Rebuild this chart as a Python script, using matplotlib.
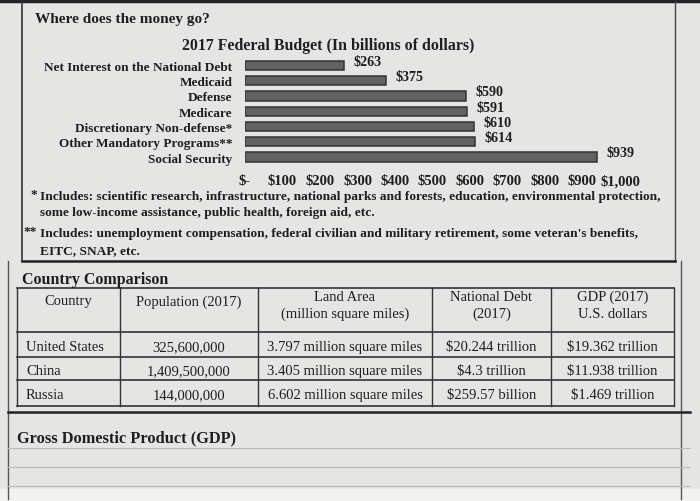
import numpy as np
from matplotlib import pyplot as plt

# budget data (billions of dollars)
categories = ['Net Interest on the National Debt', 'Medicaid', 'Defense', 'Medicare',
              'Discretionary Non-defense*', 'Other Mandatory Programs**', 'Social Security']
values = [263, 375, 590, 591, 610, 614, 939]
xticks = [0, 100, 200, 300, 400, 500, 600, 700, 800, 900, 1000]
xtick_labels = ['$-', '$100', '$200', '$300', '$400', '$500', '$600', '$700', '$800', '$900', '$1,000']

# country comparison table
table_header = ['Country', 'Population (2017)', 'Land Area\n(million square miles)',
                'National Debt\n(2017)', 'GDP (2017)\nU.S. dollars']
countries = ['United States', 'China', 'Russia']
population = ['325,600,000', '1,409,500,000', '144,000,000']
land_area = ['3.797 million square miles', '3.405 million square miles', '6.602 million square miles']
national_debt = ['$20.244 trillion', '$4.3 trillion', '$259.57 billion']
gdp = ['$19.362 trillion', '$11.938 trillion', '$1.469 trillion']

footnotes = [('*', ['Includes: scientific research, infrastructure, national parks and forests, education, environmental protection,',
                    'some low-income assistance, public health, foreign aid, etc.']),
             ('**', ['Includes: unemployment compensation, federal civilian and military retirement, some veteran\'s benefits,',
                     'EITC, SNAP, etc.'])]

W, H = 700, 502
INK = '#1e1e1e'
plt.rcParams['font.family'] = 'Liberation Serif'

fig = plt.figure(figsize=(W / 100, H / 100), dpi=100)
fig.patch.set_facecolor('#e5e5e3')

# background axes in pixel coordinates for the worksheet page
bg = fig.add_axes([0, 0, 1, 1])
bg.set_xlim(0, W)
bg.set_ylim(H, 0)
bg.axis('off')
bg.axhspan(490, H, color='#f2f2f0', zorder=0)

# box borders
bg.plot([0, W], [1.5, 1.5], color='#222', lw=2.5)
bg.plot([22, 22], [2, 262], color='#333', lw=1.2)
bg.plot([675, 675], [2, 262], color='#444', lw=1.0)
bg.plot([22, 675], [262, 262], color='#222', lw=1.8)
bg.plot([8, 8], [262, 500], color='#555', lw=1.0)
bg.plot([681, 681], [262, 500], color='#555', lw=1.0)
bg.plot([8, 690], [413, 413], color='#222', lw=1.8)
for yy in [449, 468, 487]:
    bg.plot([8, 690], [yy, yy], color='#b8b8b6', lw=0.8)

bg.text(35, 20, 'Where does the money go?', fontsize=11, fontweight='bold', color=INK, va='center')
bg.text(328, 46, '2017 Federal Budget (In billions of dollars)', fontsize=11.4,
        fontweight='bold', color=INK, ha='center', va='center')

# footnotes
line_y = [[197, 213], [234, 251]]
for (mark, lines), ys in zip(footnotes, line_y):
    bg.text(37, ys[0] - 2, mark, fontsize=9.6, fontweight='bold', color=INK, ha='right', va='center')
    for txt, yy in zip(lines, ys):
        bg.text(40, yy, txt, fontsize=9.6, fontweight='bold', color=INK, va='center')

# country comparison table
bg.text(22, 280, 'Country Comparison', fontsize=11.5, fontweight='bold', color=INK, va='center')
col_edges = [17, 120, 258, 432, 551, 674]
row_edges = [289, 333, 358, 381, 407]
for x in col_edges:
    bg.plot([x, x], [row_edges[0], row_edges[-1]], color='#333', lw=1.0)
for y in row_edges:
    bg.plot([col_edges[0], col_edges[-1]], [y, y], color='#333', lw=1.2)

centers = [(a + b) / 2 for a, b in zip(col_edges[:-1], col_edges[1:])]
for c, lab in zip(centers, table_header):
    bg.text(c, 306 if '\n' in lab else 302, lab, fontsize=10.5, color=INK, ha='center', va='center',
            linespacing=1.35)
rows = list(zip(countries, population, land_area, national_debt, gdp))
for i, row in enumerate(rows):
    yc = (row_edges[i + 1] + row_edges[i + 2]) / 2 + 2
    for j, val in enumerate(row):
        if j == 0:
            bg.text(col_edges[0] + 9, yc, val, fontsize=10.5, color=INK, va='center')
        else:
            bg.text(centers[j], yc, val, fontsize=10.5, color=INK, ha='center', va='center')

bg.text(17, 438, 'Gross Domestic Product (GDP)', fontsize=11.8, fontweight='bold', color=INK, va='center')

# bar chart
ax = fig.add_axes([245 / W, 1 - 165.7 / H, 375 / W, 107 / H])
ax.patch.set_alpha(0)
y = np.arange(len(categories))
bars = ax.barh(y, values, height=0.6, color='#626262', edgecolor='#333333', linewidth=1.1)
for b, v in zip(bars, values):
    ax.annotate('$%d' % v, (b.get_width(), b.get_y() + b.get_height() / 2),
                xytext=(7, 3), textcoords='offset points', fontsize=10.2, fontweight='bold',
                color=INK, va='center')
ax.set_xlim(0, 1000)
ax.set_ylim(len(categories) - 0.5, -0.5)
ax.set_yticks(y)
ax.set_yticklabels(categories, fontsize=9.5, fontweight='bold', color=INK)
ax.set_xticks([])
# x tick labels placed at the tick values, below the bars
for xv, lab in zip(xticks, xtick_labels):
    ax.text(xv, -0.15, lab, transform=ax.get_xaxis_transform(), fontsize=10.5,
            fontweight='bold', color=INK, ha='center', va='center')
ax.tick_params(length=0)
ax.tick_params(axis='y', pad=9)
for s in ax.spines.values():
    s.set_visible(False)

plt.savefig('out.png', dpi=100, facecolor=fig.get_facecolor())
